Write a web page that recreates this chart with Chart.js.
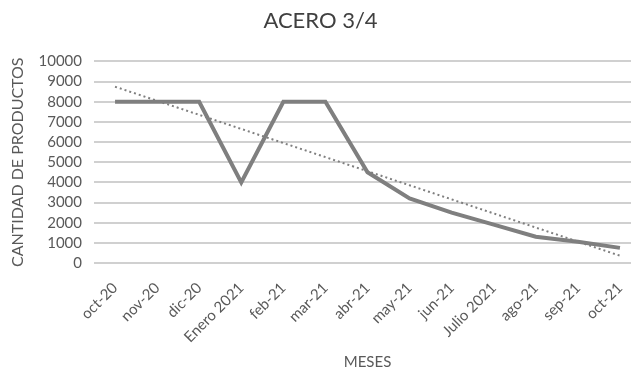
<!DOCTYPE html>
<html>
<head>
<meta charset="utf-8">
<script src="https://cdn.jsdelivr.net/npm/chart.js@4/dist/chart.umd.min.js"></script>
<style>
  html, body { margin: 0; padding: 0; background: #fff; overflow: hidden; }
  #wrap { width: 631px; height: 371px; overflow: hidden; }
  #box { width: 645px; height: 371px; }
</style>
</head>
<body>
<div id="wrap"><div id="box"><canvas id="chart"></canvas></div></div>
<script>
const meses = ['oct-20', 'nov-20', 'dic-20', 'Enero 2021', 'feb-21', 'mar-21', 'abr-21',
  'may-21', 'jun-21', 'Julio 2021', 'ago-21', 'sep-21', 'oct-21'];
const cantidad = [8000, 8000, 8000, 4000, 8000, 8000, 4500, 3200, 2500, 1900, 1300, 1050, 750];

// línea de tendencia lineal (mínimos cuadrados), como la de Excel
function tendencia(vals) {
  const n = vals.length;
  const xm = (n + 1) / 2;
  const ym = vals.reduce((a, b) => a + b, 0) / n;
  let sxy = 0, sxx = 0;
  vals.forEach((v, i) => { sxy += (i + 1 - xm) * (v - ym); sxx += (i + 1 - xm) ** 2; });
  const m = sxy / sxx;
  return vals.map((v, i) => ym + m * (i + 1 - xm));
}

const gris = '#595959';
const fuente = "'Lato', 'Liberation Sans', sans-serif";

new Chart(document.getElementById('chart'), {
  type: 'line',
  data: {
    labels: meses,
    datasets: [{
      data: cantidad,
      borderColor: '#7f7f7f',
      borderWidth: 4,
      pointRadius: 0,
      tension: 0,
      borderJoinStyle: 'miter'
    }, {
      data: tendencia(cantidad),
      borderColor: '#7f7f7f',
      borderWidth: 2,
      borderDash: [2, 3],
      pointRadius: 0
    }]
  },
  options: {
    responsive: true,
    maintainAspectRatio: false,
    animation: false,
    layout: { padding: { left: 0, right: 4, top: 0, bottom: 0 } },
    plugins: {
      legend: { display: false },
      tooltip: { enabled: false },
      title: {
        display: true,
        text: 'ACERO 3/4',
        color: '#404040',
        font: { family: fuente, size: 22, weight: 'normal' },
        padding: { top: 8, bottom: 27 }
      }
    },
    scales: {
      x: {
        offset: true,
        grid: { display: false },
        border: { display: false },
        ticks: {
          color: gris,
          font: { family: fuente, size: 15 },
          minRotation: 45,
          maxRotation: 45,
          autoSkip: false,
          padding: 8
        },
        title: {
          display: true,
          text: 'MESES',
          color: gris,
          font: { family: fuente, size: 15 },
          padding: { top: 0, bottom: 0 }
        },
        afterFit: (s) => { s.height = 108; }
      },
      y: {
        min: 0,
        max: 10000,
        ticks: {
          stepSize: 1000,
          autoSkip: false,
          color: gris,
          font: { family: fuente, size: 15 },
          padding: 12,
          callback: (v) => String(v)
        },
        grid: { color: '#d0d0d0', lineWidth: 2, drawTicks: false },
        border: { display: false },
        title: {
          display: true,
          text: 'CANTIDAD DE PRODUCTOS',
          color: gris,
          font: { family: fuente, size: 16 },
          padding: { top: 8, bottom: 4 }
        },
        afterFit: (s) => { s.width = 94; }
      }
    }
  }
});
</script>
</body>
</html>
